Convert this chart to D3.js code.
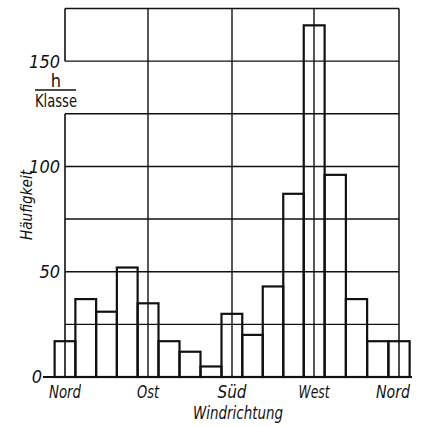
<!DOCTYPE html>
<html>
<head>
<meta charset="utf-8">
<script src="https://cdn.jsdelivr.net/npm/d3@7"></script>
<style>
  html, body { margin: 0; padding: 0; background: #fff; }
  svg { display: block; }
  text { font-family: "Liberation Sans Narrow", "DejaVu Sans Condensed", sans-serif; fill: #111; }
</style>
</head>
<body>
<svg id="chart" width="421" height="427"></svg>
<script>
// Data: wind direction classes (22.5° wide, centered on the direction) and frequencies
const directions = [0, 22.5, 45, 67.5, 90, 112.5, 135, 157.5, 180, 202.5, 225, 247.5, 270, 292.5, 315, 337.5, 360];
const counts     = [17, 37, 31, 52, 35, 17, 12, 5, 30, 20, 43, 87, 167, 96, 37, 17, 17];
const xTickValues = [0, 90, 180, 270, 360];
const xTickLabels = ["Nord", "Ost", "Süd", "West", "Nord"];
const yTickValues = [0, 50, 100, 150];
const yGridValues = [25, 50, 75, 100, 125, 150];
const yMax = 175;
const classWidth = 22.5;

const svg = d3.select("#chart");

const x = d3.scaleLinear().domain([0, 90, 180, 270, 360]).range([65, 148, 232, 314, 399]);
const y = d3.scaleLinear().domain([0, yMax]).range([377, 8.5]);

const ink = "#111";

// Horizontal grid lines
svg.append("g").selectAll("line").data(yGridValues).join("line")
  .attr("x1", x(0)).attr("x2", x(360))
  .attr("y1", d => y(d)).attr("y2", d => y(d))
  .attr("stroke", ink).attr("stroke-width", 1.4);

// Vertical grid lines (inner directions)
svg.append("g").selectAll("line").data([90, 180, 270]).join("line")
  .attr("x1", d => x(d)).attr("x2", d => x(d))
  .attr("y1", y(yMax)).attr("y2", y(0))
  .attr("stroke", ink).attr("stroke-width", 1.4);

// Frame: top, right
svg.append("line").attr("x1", x(0)).attr("x2", x(360)).attr("y1", y(yMax)).attr("y2", y(yMax))
  .attr("stroke", ink).attr("stroke-width", 1.5);
svg.append("line").attr("x1", x(360)).attr("x2", x(360)).attr("y1", y(yMax)).attr("y2", y(0))
  .attr("stroke", ink).attr("stroke-width", 1.5);
// Left frame with gap for unit label
svg.append("line").attr("x1", x(0)).attr("x2", x(0)).attr("y1", y(yMax)).attr("y2", y(150))
  .attr("stroke", ink).attr("stroke-width", 1.6);
svg.append("line").attr("x1", x(0)).attr("x2", x(0)).attr("y1", y(125)).attr("y2", y(0))
  .attr("stroke", ink).attr("stroke-width", 1.6);

// Bars
svg.append("g").selectAll("rect").data(directions).join("rect")
  .attr("x", d => x(d - classWidth / 2))
  .attr("width", d => x(d + classWidth / 2) - x(d - classWidth / 2))
  .attr("y", (d, i) => y(counts[i]))
  .attr("height", (d, i) => y(0) - y(counts[i]))
  .attr("fill", "none").attr("stroke", ink).attr("stroke-width", 2.2);

// Baseline
svg.append("line").attr("x1", 43).attr("x2", 412).attr("y1", y(0)).attr("y2", y(0))
  .attr("stroke", ink).attr("stroke-width", 2.2);

// Y tick labels
svg.append("g").selectAll("text").data(yTickValues).join("text")
  .attr("x", d => d === 0 ? 42 : 60)
  .attr("y", d => y(d))
  .attr("dy", "0.36em")
  .attr("text-anchor", "end")
  .attr("font-size", 18)
  .attr("font-style", "italic")
  .text(d => d);

// Unit label h / Klasse
svg.append("text").attr("x", 56).attr("y", 87).attr("text-anchor", "middle")
  .attr("font-size", 18).text("h");
svg.append("line").attr("x1", 35).attr("x2", 76).attr("y1", 90).attr("y2", 90)
  .attr("stroke", ink).attr("stroke-width", 1.3);
svg.append("text").attr("x", 56).attr("y", 107).attr("text-anchor", "middle")
  .attr("font-size", 17).attr("textLength", 42).attr("lengthAdjust", "spacingAndGlyphs")
  .text("Klasse");

// Y axis title
svg.append("text")
  .attr("transform", "translate(32,205) rotate(-90)")
  .attr("text-anchor", "middle")
  .attr("font-size", 16).attr("font-style", "italic")
  .attr("textLength", 70).attr("lengthAdjust", "spacingAndGlyphs")
  .text("Häufigkeit");

// X tick labels
const xLabelWidths = [32, 22, 29, 31, 34];
svg.append("g").selectAll("text").data(xTickValues).join("text")
  .attr("x", (d, i) => i === 4 ? x(d) - 6 : x(d))
  .attr("y", 398)
  .attr("text-anchor", "middle")
  .attr("font-size", 18).attr("font-style", "italic")
  .attr("textLength", (d, i) => xLabelWidths[i]).attr("lengthAdjust", "spacingAndGlyphs")
  .text((d, i) => xTickLabels[i]);

// X axis title
svg.append("text").attr("x", 238).attr("y", 419).attr("text-anchor", "middle")
  .attr("font-size", 18).attr("font-style", "italic")
  .attr("textLength", 90).attr("lengthAdjust", "spacingAndGlyphs")
  .text("Windrichtung");
</script>
</body>
</html>
